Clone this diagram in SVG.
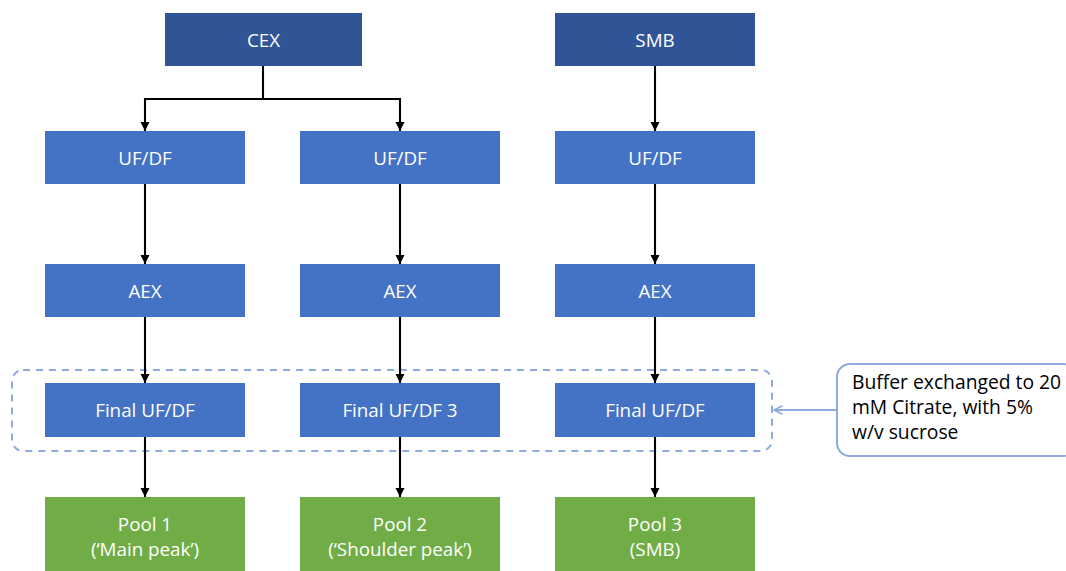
<svg xmlns="http://www.w3.org/2000/svg" width="1066" height="571" viewBox="0 0 1066 571">
  <defs>
    <marker id="arrow" viewBox="0 0 10 10" refX="10" refY="5" markerWidth="4.4" markerHeight="4.4" markerUnits="strokeWidth" orient="auto">
      <path d="M0,0 L10,5 L0,10 Z" fill="#000"/>
    </marker>
    <marker id="arrow-open" viewBox="0 0 10 10" refX="9" refY="5" markerWidth="5" markerHeight="5" markerUnits="strokeWidth" orient="auto">
      <path d="M1,1 L9,5 L1,9" fill="none" stroke="#8FAADC" stroke-width="1.6" stroke-linecap="round" stroke-linejoin="round"/>
    </marker>
    <style>
      .dark { fill: #2F5597; }
      .step { fill: #4472C4; }
      .pool { fill: #70AD47; }
      .label { font-family: "Open Sans", "Liberation Sans", sans-serif; font-size: 18.8px; fill: #FFFFFF; text-anchor: middle; }
      .note { font-family: "Open Sans", "Liberation Sans", sans-serif; font-size: 19.3px; fill: #000000; }
      .flow { fill: none; stroke: #000; stroke-width: 2.1; marker-end: url(#arrow); }
      .hint { fill: none; stroke: #8FAADC; stroke-width: 2; marker-end: url(#arrow-open); }
    </style>
  </defs>
  <rect width="1066" height="571" fill="#FFFFFF"/>

  <!-- group around the three final buffer-exchange steps -->
  <rect id="final-group" x="12" y="370" width="760" height="81" rx="11" fill="none" stroke="#8FAADC" stroke-width="2" stroke-dasharray="7 6"/>

  <!-- connectors -->
  <g id="connectors">
    <path class="flow" d="M263,66 V99 H145 V131"/>
    <path class="flow" d="M263,99 H400 V131"/>
    <path class="flow" d="M655,66 V131"/>
    <path class="flow" d="M145,184 V264"/>
    <path class="flow" d="M400,184 V264"/>
    <path class="flow" d="M655,184 V264"/>
    <path class="flow" d="M145,317 V383"/>
    <path class="flow" d="M400,317 V383"/>
    <path class="flow" d="M655,317 V383"/>
    <path class="flow" d="M145,437 V497"/>
    <path class="flow" d="M400,437 V497"/>
    <path class="flow" d="M655,437 V497"/>
    <path class="hint" d="M837,410 H774"/>
  </g>

  <!-- capture steps -->
  <g id="cex">
    <rect class="dark" x="165" y="13" width="197" height="53"/>
    <text class="label" x="263.5" y="46.5">CEX</text>
  </g>
  <g id="smb">
    <rect class="dark" x="555" y="13" width="200" height="53"/>
    <text class="label" x="655" y="46.5">SMB</text>
  </g>

  <!-- UF/DF row -->
  <g id="ufdf-1">
    <rect class="step" x="45" y="131" width="200" height="53"/>
    <text class="label" x="145" y="164.5">UF/DF</text>
  </g>
  <g id="ufdf-2">
    <rect class="step" x="300" y="131" width="200" height="53"/>
    <text class="label" x="400" y="164.5">UF/DF</text>
  </g>
  <g id="ufdf-3">
    <rect class="step" x="555" y="131" width="200" height="53"/>
    <text class="label" x="655" y="164.5">UF/DF</text>
  </g>

  <!-- AEX row -->
  <g id="aex-1">
    <rect class="step" x="45" y="264" width="200" height="53"/>
    <text class="label" x="145" y="297.5">AEX</text>
  </g>
  <g id="aex-2">
    <rect class="step" x="300" y="264" width="200" height="53"/>
    <text class="label" x="400" y="297.5">AEX</text>
  </g>
  <g id="aex-3">
    <rect class="step" x="555" y="264" width="200" height="53"/>
    <text class="label" x="655" y="297.5">AEX</text>
  </g>

  <!-- final UF/DF row -->
  <g id="final-1">
    <rect class="step" x="45" y="383" width="200" height="54"/>
    <text class="label" x="145" y="417">Final UF/DF</text>
  </g>
  <g id="final-2">
    <rect class="step" x="300" y="383" width="200" height="54"/>
    <text class="label" x="400" y="417">Final UF/DF 3</text>
  </g>
  <g id="final-3">
    <rect class="step" x="555" y="383" width="200" height="54"/>
    <text class="label" x="655" y="417">Final UF/DF</text>
  </g>

  <!-- pools -->
  <g id="pool-1">
    <rect class="pool" x="45" y="497" width="200" height="80"/>
    <text class="label" x="145" y="531">Pool 1</text>
    <text class="label" x="145" y="556">(‘Main peak’)</text>
  </g>
  <g id="pool-2">
    <rect class="pool" x="300" y="497" width="200" height="80"/>
    <text class="label" x="400" y="531">Pool 2</text>
    <text class="label" x="400" y="556">(‘Shoulder peak’)</text>
  </g>
  <g id="pool-3">
    <rect class="pool" x="555" y="497" width="200" height="80"/>
    <text class="label" x="655" y="531">Pool 3</text>
    <text class="label" x="655" y="556">(SMB)</text>
  </g>

  <!-- buffer note -->
  <g id="buffer-note">
    <rect x="837" y="364" width="240" height="92" rx="13" fill="#FFFFFF" stroke="#8FAADC" stroke-width="2"/>
    <text class="note" x="852" y="389">Buffer exchanged to 20</text>
    <text class="note" x="852" y="414">mM Citrate, with 5%</text>
    <text class="note" x="852" y="439">w/v sucrose</text>
  </g>
</svg>
